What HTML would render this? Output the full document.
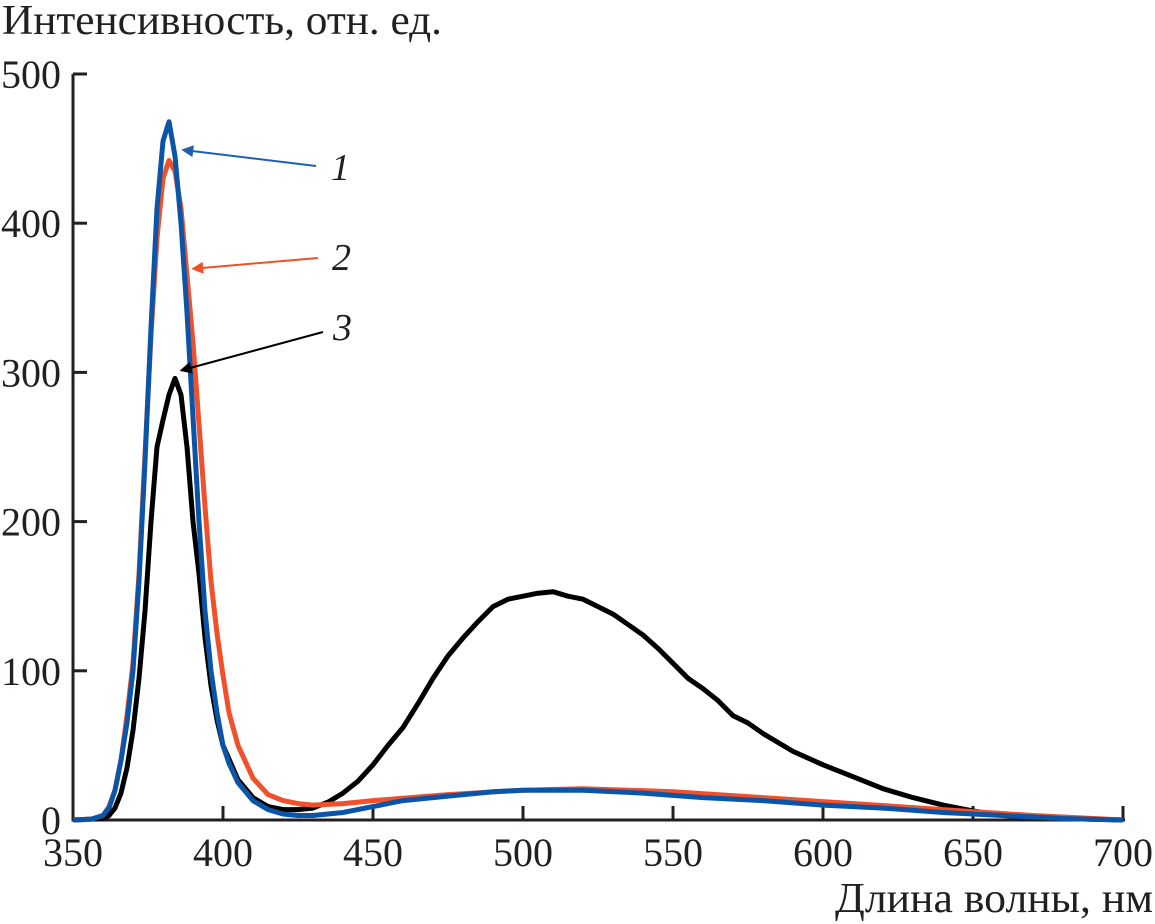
<!DOCTYPE html>
<html><head><meta charset="utf-8">
<style>
html,body{margin:0;padding:0;background:#fff;}
svg{display:block;font-family:"Liberation Serif","DejaVu Serif",serif;}
</style></head>
<body>
<svg id="chart" width="1155" height="924" viewBox="0 0 1155 924" xmlns="http://www.w3.org/2000/svg">
<defs>
<marker id="ab" viewBox="0 0 10 10" refX="1" refY="5" markerWidth="8" markerHeight="6" orient="auto-start-reverse"><path d="M0,0 L10,5 L0,10 z" fill="#1f5fb0"/></marker>
<marker id="ar" viewBox="0 0 10 10" refX="1" refY="5" markerWidth="8" markerHeight="6" orient="auto-start-reverse"><path d="M0,0 L10,5 L0,10 z" fill="#f0502a"/></marker>
<marker id="ak" viewBox="0 0 10 10" refX="1" refY="5" markerWidth="8" markerHeight="6" orient="auto-start-reverse"><path d="M0,0 L10,5 L0,10 z" fill="#000"/></marker>
</defs>
<text x="2" y="34" font-size="42" fill="#231f20" textLength="440" lengthAdjust="spacingAndGlyphs">Интенсивность, отн. ед.</text>
<text x="1153" y="912" font-size="42" text-anchor="end" fill="#231f20" textLength="318" lengthAdjust="spacingAndGlyphs">Длина волны, нм</text>
<g id="axes"></g>
<g id="series"></g>
<g>
<line x1="316" y1="166" x2="192" y2="151" stroke="#1f5fb0" stroke-width="2" marker-end="url(#ab)"/>
<line x1="318" y1="258" x2="202" y2="268" stroke="#f0502a" stroke-width="2" marker-end="url(#ar)"/>
<line x1="323" y1="332" x2="190" y2="368" stroke="#000" stroke-width="2" marker-end="url(#ak)"/>
<text x="331" y="180" font-size="38" font-style="italic" fill="#231f20">1</text>
<text x="332" y="270" font-size="38" font-style="italic" fill="#231f20">2</text>
<text x="333" y="340" font-size="38" font-style="italic" fill="#231f20">3</text>
</g>
</svg>
<script>
const xTicks=[350,400,450,500,550,600,650,700];
const yTicks=[0,100,200,300,400,500];
const wl1=[350,356,360,362,364,366,368,370,372,374,376,378,380,382,384,386,388,390,392,394,396,398,400,402,405,410,415,420,425,430,440,450,460,475,490,500,520,540,560,580,600,620,640,660,680,700];
const s1=[0,0.5,3,8,20,40,65,100,160,240,330,410,455,468,445,400,340,270,200,140,100,72,50,38,25,13,7,4,3,3,5,9,13,16,19,20,20,18,15,13,10,8,5,3,1,0];
const wl2=[350,356,360,362,364,366,368,370,372,374,376,378,380,382,384,386,388,390,392,394,396,398,400,402,405,410,415,420,425,430,440,450,475,500,520,550,580,610,640,670,700];
const s2=[0,0.5,3,9,20,40,70,105,165,245,325,390,430,442,435,410,365,320,265,210,160,125,97,72,50,28,17,13,11,10,11,13,17,20,21,19,15,11,7,3,0];
const wl3=[350,360,362,364,366,368,370,372,374,376,378,380,382,384,386,388,390,392,394,396,398,400,405,410,415,420,425,430,435,440,445,450,455,460,465,470,475,480,485,490,495,500,505,510,515,520,525,530,535,540,545,550,555,560,565,570,575,580,590,600,610,620,630,640,650,660,670,680,700];
const s3=[0,1,3,8,18,35,60,95,140,200,250,268,285,296,285,250,200,165,122,90,67,50,27,15,9,7,7,8,12,18,26,37,50,62,78,95,110,122,133,143,148,150,152,153,150,148,143,138,131,124,115,105,95,88,80,70,65,58,46,37,29,21,15,10,6,3,2,1,0];
const X0=73,X1=1123,Y0=820,Y1=74;
const sx=v=>X0+(v-350)/(700-350)*(X1-X0);
const sy=v=>Y0-(v/500)*(Y0-Y1);
const NS="http://www.w3.org/2000/svg";
const axes=document.getElementById('axes');
function mk(tag,attrs,parent){const e=document.createElementNS(NS,tag);for(const k in attrs)e.setAttribute(k,attrs[k]);parent.appendChild(e);return e;}
let a=mk('path',{d:`M${X0},${Y1} L${X0},${Y0} L${X1+2},${Y0}`,fill:'none',stroke:'#231f20','stroke-width':3},axes);


xTicks.forEach(t=>{
 const l=mk('line',{x1:sx(t),x2:sx(t),y1:Y0,y2:Y0-14,stroke:'#231f20','stroke-width':3},axes);
 
 
 const tx=mk('text',{x:sx(t),y:Y0+46,'font-size':40,'text-anchor':'middle',fill:'#231f20'},axes);
 tx.textContent=t;
 
 
});
yTicks.forEach(t=>{
 const l=mk('line',{x1:X0,x2:X0+14,y1:sy(t),y2:sy(t),stroke:'#231f20','stroke-width':3},axes);
 
 
 const tx=mk('text',{x:61,y:sy(t)+14,'font-size':40,'text-anchor':'end',fill:'#231f20'},axes);
 tx.textContent=t;
 
 
});
const ser=document.getElementById('series');
function line(wl,s,color,name){
 const d=wl.map((w,i)=>(i?'L':'M')+sx(w).toFixed(1)+','+sy(s[i]).toFixed(1)).join(' ');
 const p=mk('path',{d:d,fill:'none',stroke:color,'stroke-width':5,'stroke-linejoin':'round'},ser);
 
 
}
line(wl3,s3,'#000','series-3-line');
line(wl2,s2,'#f0502a','series-2-line');
line(wl1,s1,'#0b55a8','series-1-line');
</script>
</body></html>
